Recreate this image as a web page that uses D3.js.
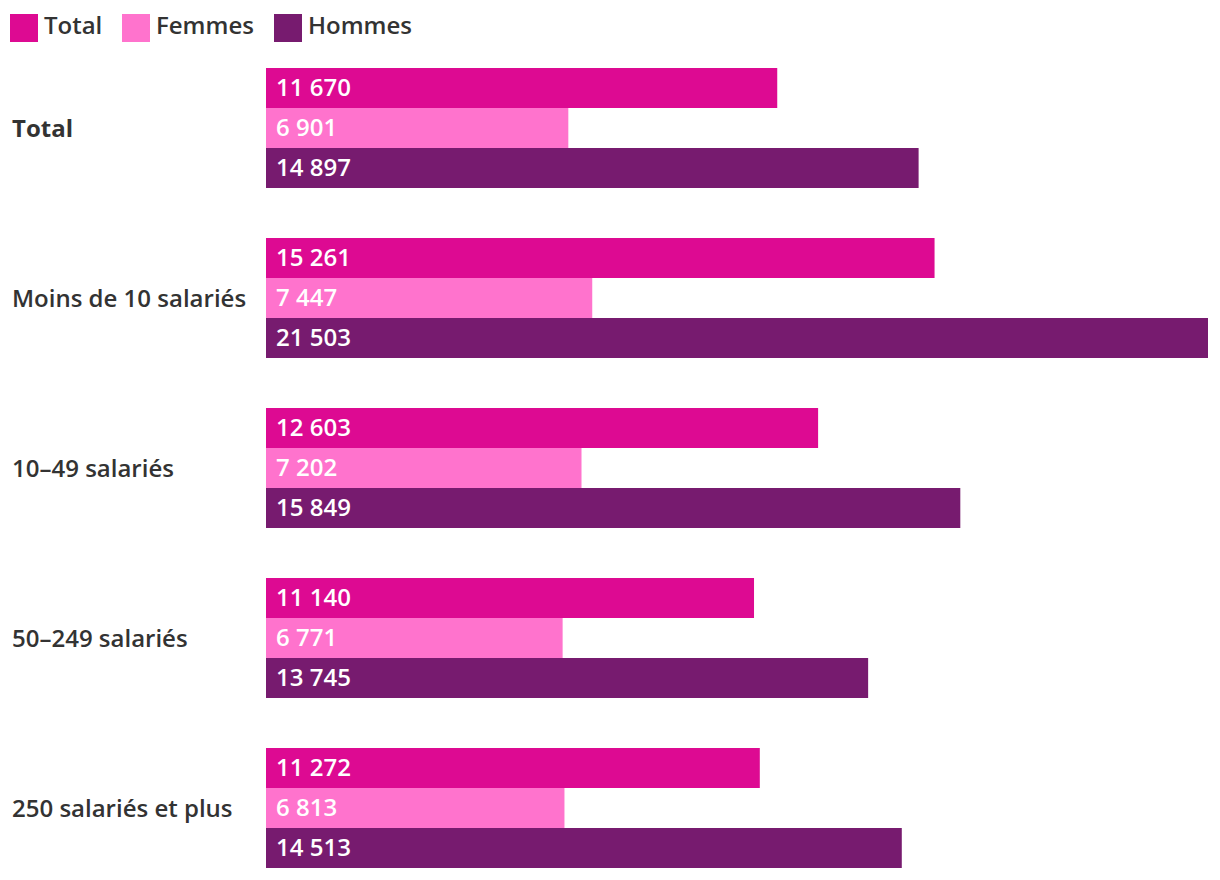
<!DOCTYPE html>
<html>
<head>
<meta charset="utf-8">
<script src="https://cdn.jsdelivr.net/npm/d3@7"></script>
<style>
  body { margin: 0; background: #fff; }
  text { font-family: "Open Sans", sans-serif; font-weight: 600; }
</style>
</head>
<body>
<div id="chart"></div>
<script>
// data
const categories = ["Total", "Moins de 10 salariés", "10–49 salariés", "50–249 salariés", "250 salariés et plus"];
const series = ["Total", "Femmes", "Hommes"];
const totalValues = [11670, 15261, 12603, 11140, 11272];
const femmesValues = [6901, 7447, 7202, 6771, 6813];
const hommesValues = [14897, 21503, 15849, 13745, 14513];
const colors = ["#dd0a92", "#ff73cd", "#771b6f"];

const width = 1220, height = 880;
const values = [totalValues, femmesValues, hommesValues];

const svg = d3.select("#chart").append("svg")
    .attr("width", width)
    .attr("height", height);

const x = d3.scaleLinear()
    .domain([0, d3.max(hommesValues)])
    .range([266, 1208]);

// step 170, group 120, gap 50
const y0 = d3.scaleBand()
    .domain(categories)
    .range([68, 868])
    .paddingInner(50 / 170)
    .paddingOuter(0);

const y1 = d3.scaleBand()
    .domain(series)
    .range([0, y0.bandwidth()]);

const fmt = d => d3.format(",")(d).replace(/,/g, " ");

// legend
const leg = svg.append("g").selectAll("g")
    .data(series)
  .enter().append("g")
    .attr("transform", (d, i) => "translate(" + [10, 122, 274][i] + ",14)");

leg.append("rect")
    .attr("width", 28)
    .attr("height", 28)
    .attr("fill", (d, i) => colors[i]);

leg.append("text")
    .attr("x", 34)
    .attr("y", 20)
    .style("font-size", "24px")
    .style("fill", "#333")
    .text(d => d);

// groups
const g = svg.append("g").selectAll("g")
    .data(categories)
  .enter().append("g")
    .attr("transform", d => "translate(0," + y0(d) + ")");

g.append("text")
    .attr("x", 12)
    .attr("y", y0.bandwidth() / 2 + 9)
    .style("font-size", "24px")
    .style("font-weight", (d, i) => i === 0 ? "bold" : null)
    .style("fill", "#333")
    .text(d => d);

const bars = g.selectAll("g.bar")
    .data((d, ci) => series.map((s, si) => ({ s, si, v: values[si][ci] })))
  .enter().append("g")
    .attr("class", "bar");

bars.append("rect")
    .attr("x", x(0))
    .attr("y", d => y1(d.s))
    .attr("width", d => x(d.v) - x(0))
    .attr("height", y1.bandwidth())
    .attr("fill", d => colors[d.si]);

bars.append("text")
    .attr("x", x(0) + 10)
    .attr("y", d => y1(d.s) + y1.bandwidth() / 2 + 8)
    .style("font-size", "24px")
    .style("fill", "#fff")
    .text(d => fmt(d.v));
</script>
</body>
</html>
